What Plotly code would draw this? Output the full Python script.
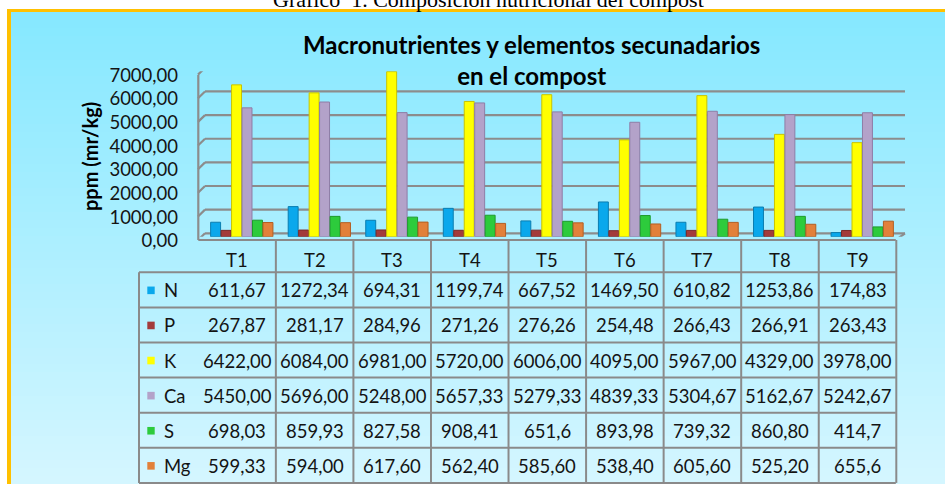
import plotly.graph_objects as go

# ---------------- data ----------------
categories = ["T1", "T2", "T3", "T4", "T5", "T6", "T7", "T8", "T9"]
series_names = ["N", "P", "K", "Ca", "S", "Mg"]
N  = ["611,67", "1272,34", "694,31", "1199,74", "667,52", "1469,50", "610,82", "1253,86", "174,83"]
P  = ["267,87", "281,17", "284,96", "271,26", "276,26", "254,48", "266,43", "266,91", "263,43"]
K  = ["6422,00", "6084,00", "6981,00", "5720,00", "6006,00", "4095,00", "5967,00", "4329,00", "3978,00"]
Ca = ["5450,00", "5696,00", "5248,00", "5657,33", "5279,33", "4839,33", "5304,67", "5162,67", "5242,67"]
S  = ["698,03", "859,93", "827,58", "908,41", "651,6", "893,98", "739,32", "860,80", "414,7"]
Mg = ["599,33", "594,00", "617,60", "562,40", "585,60", "538,40", "605,60", "525,20", "655,6"]
y_ticks = [0, 1000, 2000, 3000, 4000, 5000, 6000, 7000]

series_text = [N, P, K, Ca, S, Mg]
fill_colors = ["#0AA8EC", "#A33B3B", "#FFFF00", "#B3A2C9", "#2DCB3C", "#E2803A"]
edge_colors = ["#0A7DB0", "#7A2A2A", "#C9C400", "#8E7DA6", "#1E9A2B", "#B35E22"]

W, H = 945, 484
def px(x): return x / W
def py(y): return 1 - y / H

FONT = "Lato"
fig = go.Figure()

for name, txt, fc, ec in zip(series_names, series_text, fill_colors, edge_colors):
    vals = [float(t.replace(",", ".")) for t in txt]
    fig.add_trace(go.Bar(name=name, x=categories, y=vals,
                         marker=dict(color=fc, line=dict(color=ec, width=1)),
                         showlegend=False, hoverinfo="skip"))

shapes = []
# background gradient panel
top, bot = 12, 484
nb = 59
c0, c1 = (133, 232, 255), (213, 246, 255)
for i in range(nb):
    y0 = top + (bot - top) * i / nb
    y1 = top + (bot - top) * (i + 1) / nb
    t = (i + 0.5) / nb
    col = "rgb(%d,%d,%d)" % tuple(round(a + (b - a) * t) for a, b in zip(c0, c1))
    shapes.append(dict(type="rect", xref="paper", yref="paper", layer="below",
                       x0=px(11), x1=1, y0=py(y1 + 0.6), y1=py(y0),
                       fillcolor=col, line=dict(width=0)))
# gold border left and top
shapes.append(dict(type="rect", xref="paper", yref="paper", layer="below",
                   x0=px(7), x1=px(11), y0=0, y1=py(9), fillcolor="#FFC000", line=dict(width=0)))
shapes.append(dict(type="rect", xref="paper", yref="paper", layer="below",
                   x0=px(7), x1=1, y0=py(12), y1=py(9), fillcolor="#FFC000", line=dict(width=0)))

GRID = "#8C8C8C"
GW = 2.2
# back-wall gridlines and left wall diagonals
for v in y_ticks:
    shapes.append(dict(type="line", xref="paper", yref="y", ysizemode="pixel", yanchor=v,
                       x0=px(205), x1=px(905), y0=3.4, y1=3.4, layer="below",
                       line=dict(color=GRID, width=GW)))
    shapes.append(dict(type="line", xref="paper", yref="y", ysizemode="pixel", yanchor=v,
                       x0=px(198), x1=px(205), y0=-3.4, y1=3.4, layer="below",
                       line=dict(color=GRID, width=GW)))
# left wall front edge
shapes.append(dict(type="line", xref="paper", yref="paper", layer="below",
                   x0=px(198.3), x1=px(198.3), y0=py(240), y1=py(75),
                   line=dict(color=GRID, width=GW)))
# floor right diagonal
shapes.append(dict(type="line", xref="paper", yref="y", ysizemode="pixel", yanchor=0,
                   x0=px(905), x1=px(895.8), y0=3.4, y1=-3.4, layer="below",
                   line=dict(color=GRID, width=GW)))

# data table grid
row_edges = [240, 272.3, 307.4, 342.5, 377.6, 412.7, 447.8, 482.9]
TB = "#8A8A8A"
XS = -4.7  # table columns sit on the front edge of the 3D floor
shapes.append(dict(type="line", xref="paper", yref="paper",
                   x0=px(198.3), x1=px(895.8), y0=py(240), y1=py(240),
                   line=dict(color=TB, width=2.2)))
for ye in row_edges[1:]:
    shapes.append(dict(type="line", xref="paper", yref="paper",
                       x0=px(139), x1=px(895.8), y0=py(ye), y1=py(ye),
                       line=dict(color=TB, width=2)))
shapes.append(dict(type="line", xref="paper", yref="paper",
                   x0=px(139), x1=px(139), y0=py(row_edges[1]), y1=py(row_edges[-1]),
                   line=dict(color=TB, width=2)))
for k in range(len(categories) + 1):
    shapes.append(dict(type="line", xref="x", yref="paper", xsizemode="pixel", xanchor=k - 0.5,
                       x0=XS, x1=XS, y0=py(row_edges[0]), y1=py(row_edges[-1]),
                       line=dict(color=TB, width=2)))

annotations = []
TXT = "#141414"
# header
for c in categories:
    annotations.append(dict(x=c, xref="x", xshift=XS, y=py(259.5), yref="paper",
                            text=c, showarrow=False, xanchor="center", yanchor="middle",
                            font=dict(family=FONT, size=18.5, color=TXT)))
# rows
for r, (name, txt, fc) in enumerate(zip(series_names, series_text, fill_colors)):
    yc = (row_edges[r + 1] + row_edges[r + 2]) / 2 + 0.5
    shapes.append(dict(type="rect", xref="paper", yref="paper",
                       x0=px(147.3), x1=px(154.7), y0=py(yc + 3.8), y1=py(yc - 3.8),
                       fillcolor=fc, line=dict(width=0)))
    annotations.append(dict(x=px(161.5), xref="paper", y=py(yc), yref="paper",
                            text=name, showarrow=False, xanchor="left", yanchor="middle",
                            font=dict(family=FONT, size=18.5, color=TXT)))
    for c, t in zip(categories, txt):
        annotations.append(dict(x=c, xref="x", xshift=XS, y=py(yc), yref="paper",
                                text=t, showarrow=False, xanchor="center", yanchor="middle",
                                font=dict(family=FONT, size=18.5, color=TXT)))

# titles
annotations.append(dict(x=px(531), y=py(60), xref="paper", yref="paper",
                        text="<b>Macronutrientes y elementos secunadarios<br>en el compost</b>",
                        showarrow=False, xanchor="center", yanchor="middle",
                        font=dict(family=FONT, size=24, color="#000000")))
annotations.append(dict(x=px(90), y=py(157), xref="paper", yref="paper",
                        text="<b>ppm (mr/kg)</b>", textangle=-90, showarrow=False,
                        xanchor="center", yanchor="middle",
                        font=dict(family=FONT, size=20, color="#000000")))
annotations.append(dict(x=px(488), y=py(-1), xref="paper", yref="paper",
                        text="Gráfico  1. Composición nutricional del compost", showarrow=False,
                        xanchor="center", yanchor="middle",
                        font=dict(family="Liberation Serif", size=22, color="#000000")))

fig.update_layout(
    width=W, height=H,
    margin=dict(l=0, r=0, t=0, b=0, pad=0, autoexpand=False),
    paper_bgcolor="white", plot_bgcolor="rgba(0,0,0,0)",
    separators=",.",
    barmode="group", bargap=0.19, bargroupgap=0.05,
    xaxis=dict(domain=[px(203), px(901)], range=[-0.5, 8.5], visible=False, automargin=False,
               type="category", categoryorder="array", categoryarray=categories),
    yaxis=dict(domain=[py(236.7), py(71.2)], range=[0, 7000], tickvals=y_ticks, automargin=False,
               tickformat=".2f", showgrid=False, zeroline=False, showline=False,
               ticks="", ticklabelstandoff=24, ticklabelshift=4,
               tickfont=dict(family=FONT, size=18.5, color=TXT)),
    shapes=shapes, annotations=annotations,
)

fig.write_html("out.html", config={"displayModeBar": False},
               post_script="document.body.style.margin='0';")
